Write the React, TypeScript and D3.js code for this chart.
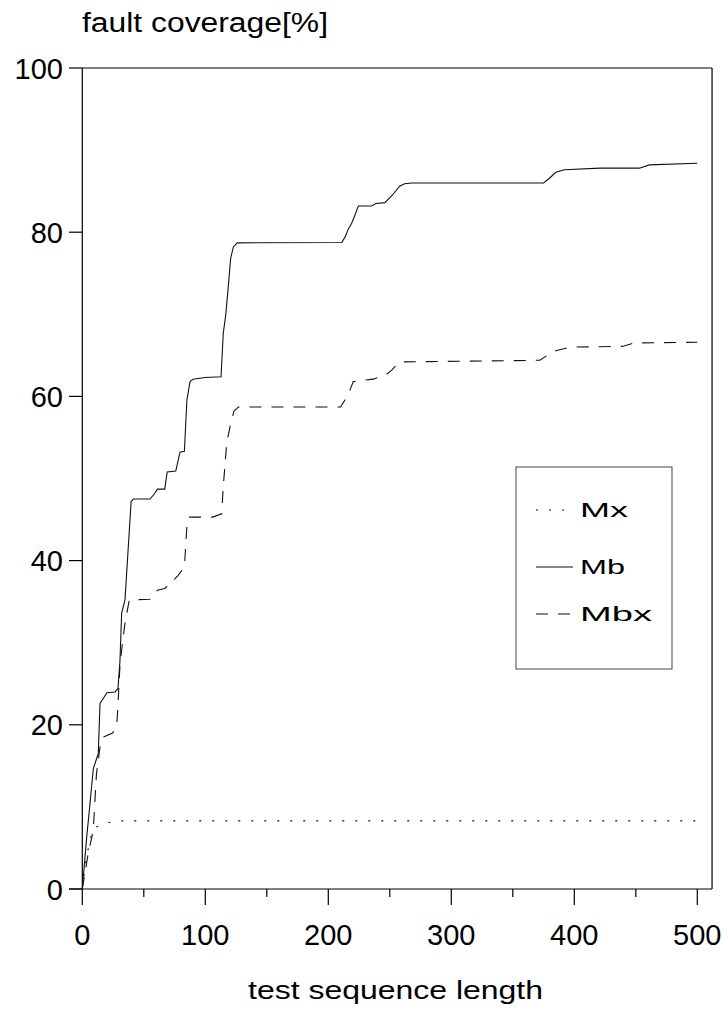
import React from "react";
import * as d3 from "d3";

const W = 728;
const H = 1012;

// x-axis ticks and labels
const xMajorTicks = [0, 100, 200, 300, 400, 500];
const xMinorTicks = [50, 150, 250, 350, 450];
const yTicks = [0, 20, 40, 60, 80, 100];

// Series: Mb (solid)
const mbX = [0, 3.5, 6, 9, 13, 14.4, 17, 20, 26.6, 29, 30.6, 32, 34.7, 39.7, 41.5, 55, 59, 61, 67, 69, 76, 79.4, 83, 85, 87.6, 90, 100, 112.8, 114.6, 116.6, 118.7, 120.6, 122.8, 126, 210.9, 213.6, 216.3, 219, 221.7, 224.4, 235, 239, 246, 252, 258, 262, 268, 375, 380, 385, 392, 421, 453, 461, 500];
const mbY = [0, 6.2, 10, 14.7, 16.5, 22.6, 23.2, 23.9, 24.0, 24.4, 27.7, 33.6, 35.2, 47.2, 47.5, 47.5, 48.2, 48.7, 48.7, 50.8, 50.9, 53.2, 53.3, 59.5, 61.8, 62.1, 62.3, 62.4, 67.7, 69.9, 73.4, 76.8, 78.2, 78.7, 78.75, 79.4, 80.4, 81.1, 82.1, 83.2, 83.2, 83.5, 83.6, 84.5, 85.6, 85.9, 86.0, 86.0, 86.6, 87.3, 87.6, 87.8, 87.8, 88.2, 88.4];

// Series: Mbx (dashed)
const mbxX = [0, 5, 7.6, 9, 11.5, 14.4, 17, 24.7, 28, 28.8, 30.7, 34.7, 38.2, 55, 61, 67, 74, 78, 83, 85, 87, 106, 113.3, 114.6, 117.4, 120.6, 123.3, 126.8, 210, 213.6, 217.7, 220.3, 230, 236.6, 247.5, 251.6, 257, 261, 372, 380, 385.6, 396.5, 439.8, 448, 500];
const mbxY = [0, 4.5, 6.2, 7.4, 14, 17.3, 18.5, 19.0, 20.0, 21.8, 27.5, 32.4, 35.2, 35.3, 36.4, 36.6, 37.6, 38.2, 39.2, 44.1, 45.3, 45.3, 45.7, 49.0, 54.3, 56.7, 58.2, 58.7, 58.7, 59.6, 60.8, 61.8, 62.0, 62.1, 62.7, 63.2, 64.1, 64.2, 64.4, 65.2, 65.6, 66.0, 66.1, 66.5, 66.6];

// Series: Mx (dotted)
const mxX = [0, 3, 6.3, 9, 17, 27, 40, 500];
const mxY = [0, 3.5, 6.0, 7.4, 7.9, 8.3, 8.3, 8.3];

const seriesNames = ["Mx", "Mb", "Mbx"];
const seriesDash = ["2,11", "", "12,10"];

const FONT = "'Liberation Sans', Arial, sans-serif";

export default function App() {
  const x = d3.scaleLinear().domain([0, 500]).range([82.3, 697.3]);
  const y = d3.scaleLinear().domain([0, 100]).range([889, 68]);
  const left = x(0);
  const right = x(512);
  const top = y(100);
  const bottom = y(0);

  const line = d3
    .line<[number, number]>()
    .x((d) => x(d[0]))
    .y((d) => y(d[1]));

  const zip = (a: number[], b: number[]) => a.map((v, i) => [v, b[i]] as [number, number]);
  const series = [
    { name: "Mx", pts: zip(mxX, mxY), dash: seriesDash[0] },
    { name: "Mb", pts: zip(mbX, mbY), dash: seriesDash[1] },
    { name: "Mbx", pts: zip(mbxX, mbxY), dash: seriesDash[2] },
  ];

  const legendY = [510, 567, 614];
  const legendTextW = [48, 45, 72];

  return (
    <svg
      width={W}
      height={H}
      style={{ position: "absolute", left: 0, top: 0, background: "#fff" }}
      fontFamily={FONT}
    >
      <rect x={0} y={0} width={W} height={H} fill="#fff" />
      {/* frame */}
      <line x1={left} x2={right} y1={top} y2={top} stroke="#000" strokeWidth={1.2} />
      <line x1={right} x2={right} y1={top} y2={bottom} stroke="#000" strokeWidth={1.2} />
      <line x1={left} x2={left} y1={top} y2={bottom} stroke="#000" strokeWidth={1.2} />
      <line x1={69} x2={right} y1={bottom} y2={bottom} stroke="#000" strokeWidth={1.2} />

      {/* y ticks */}
      {yTicks.map((t) => (
        <g key={"y" + t}>
          <line x1={69} x2={left} y1={y(t)} y2={y(t)} stroke="#000" strokeWidth={1.2} />
          <text x={63} y={y(t) + 10.5} textAnchor="end" fontSize={29} fill="#000">
            {t}
          </text>
        </g>
      ))}

      {/* x ticks */}
      {xMajorTicks.map((t) => (
        <g key={"x" + t}>
          <line x1={x(t)} x2={x(t)} y1={bottom} y2={905} stroke="#000" strokeWidth={1.2} />
          <text x={x(t)} y={945} textAnchor="middle" fontSize={29} fill="#000">
            {t}
          </text>
        </g>
      ))}
      {xMinorTicks.map((t) => (
        <line key={"xm" + t} x1={x(t)} x2={x(t)} y1={bottom} y2={897} stroke="#000" strokeWidth={1.2} />
      ))}

      {/* titles */}
      <text x={82} y={32} fontSize={27} fill="#000" textLength={246} lengthAdjust="spacingAndGlyphs">
        fault coverage[%]
      </text>
      <text x={248} y={999} fontSize={26} fill="#000" textLength={295} lengthAdjust="spacingAndGlyphs">
        test sequence length
      </text>

      {/* series */}
      {series.map((s) => (
        <path
          key={s.name}
          d={line(s.pts) || ""}
          fill="none"
          stroke="#111"
          strokeWidth={1.1}
          strokeDasharray={s.dash || undefined}
        />
      ))}

      {/* legend */}
      <rect x={516} y={467} width={156} height={202} fill="#fff" stroke="#444" strokeWidth={1} />
      {seriesNames.map((n, i) => (
        <g key={"lg" + n}>
          <line
            x1={536}
            x2={573}
            y1={legendY[i]}
            y2={legendY[i]}
            stroke="#111"
            strokeWidth={1.1}
            strokeDasharray={seriesDash[i] || undefined}
          />
          <text
            x={580}
            y={legendY[i] + 7}
            fontSize={20}
            fill="#000"
            textLength={legendTextW[i]}
            lengthAdjust="spacingAndGlyphs"
          >
            {n}
          </text>
        </g>
      ))}
    </svg>
  );
}
